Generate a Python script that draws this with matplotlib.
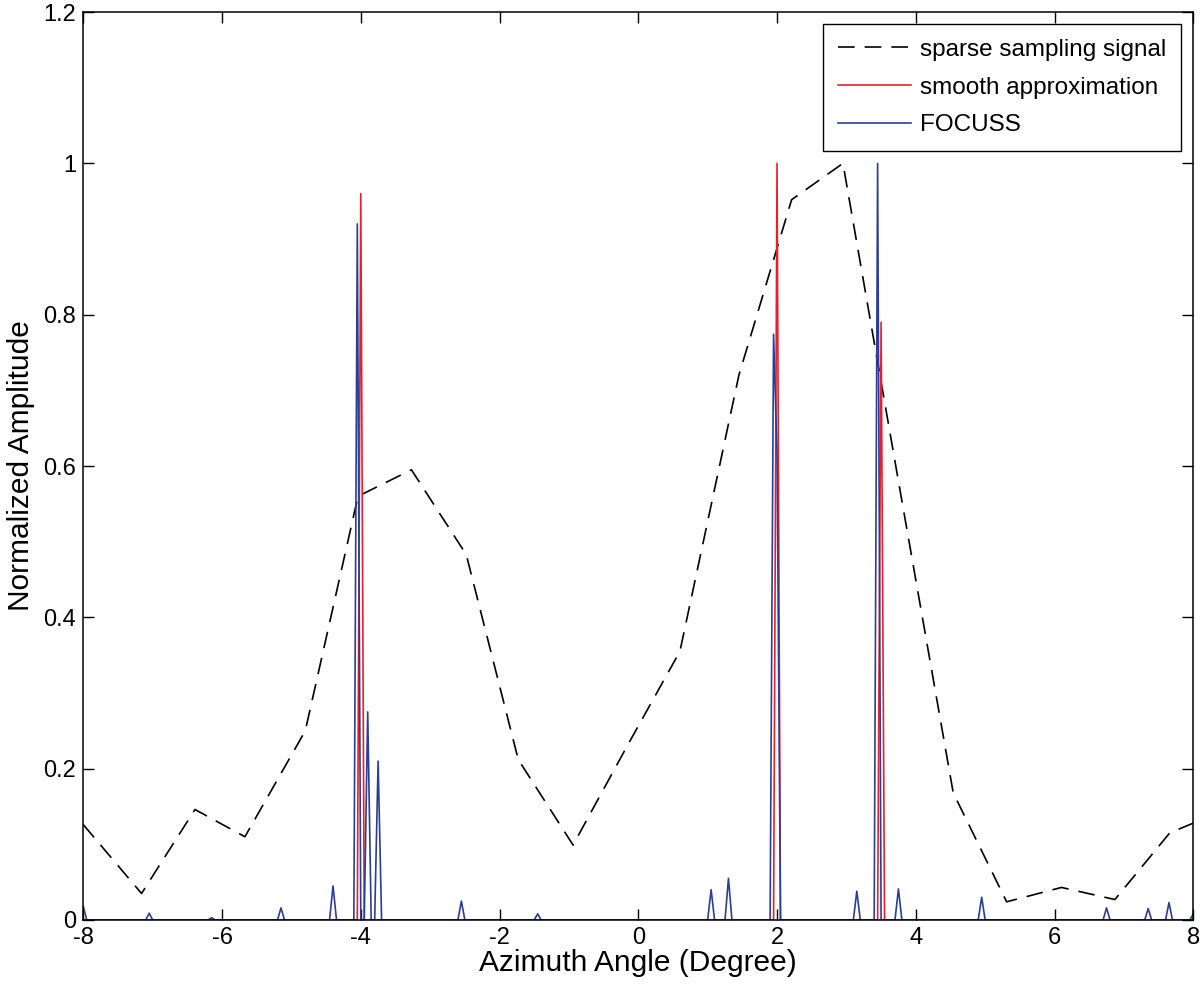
import numpy as np
import matplotlib
matplotlib.use("Agg")
import matplotlib.pyplot as plt

plt.rcParams["font.family"] = ["Liberation Sans", "DejaVu Sans"]
plt.rcParams["axes.unicode_minus"] = False

# sparse sampling signal (dashed), vertices
sparse_x = [-8.0, -7.16, -6.39, -5.67, -4.8, -4.04, -3.27, -2.48, -1.73, -0.94,
            -0.16, 0.6, 1.45, 2.21, 2.95, 3.75, 4.54, 5.31, 6.10, 6.87, 7.66, 8.0]
sparse_y = [0.126, 0.035, 0.146, 0.110, 0.25, 0.56, 0.595, 0.483, 0.212, 0.099,
            0.23, 0.355, 0.72, 0.952, 1.0, 0.58, 0.168, 0.024, 0.043, 0.027, 0.115, 0.128]

# smooth approximation: nonzero samples on the angle grid
smooth_peak_x = [-4.0, 2.0, 3.5]
smooth_peak_y = [0.96, 1.0, 0.79]

# FOCUSS: nonzero samples on the angle grid
focuss_peak_x = [-8.0, -7.05, -6.15, -5.15, -4.4, -4.05, -3.9, -3.75, -2.55, -1.45,
                 1.05, 1.3, 1.95, 2.0, 3.15, 3.45, 3.75, 4.95, 6.75, 7.35, 7.65, 8.0]
focuss_peak_y = [0.018, 0.009, 0.003, 0.016, 0.045, 0.92, 0.275, 0.21, 0.025, 0.008,
                 0.04, 0.055, 0.774, 0.615, 0.038, 1.0, 0.041, 0.03, 0.016, 0.015, 0.023, 0.008]

grid_step = 0.05
grid = np.round(np.arange(-8.0, 8.0 + grid_step / 2, grid_step), 4)


def on_grid(px, py):
    y = np.zeros_like(grid)
    for xv, yv in zip(px, py):
        y[np.argmin(np.abs(grid - xv))] = yv
    return y


smooth_y = on_grid(smooth_peak_x, smooth_peak_y)
focuss_y = on_grid(focuss_peak_x, focuss_peak_y)

fig = plt.figure(figsize=(12, 9.89), dpi=100)
ax = fig.add_axes([0.0694, 0.0698, 0.925, 0.918])

ax.plot(sparse_x, sparse_y, color="black", lw=1.2, dashes=(10, 6),
        label="sparse sampling signal")
ax.plot(grid, smooth_y, color="#e8202e", lw=1.2, label="smooth approximation")
ax.plot(grid, focuss_y, color="#2a3f94", lw=1.2, label="FOCUSS")

ax.set_xlim(-8, 8)
ax.set_ylim(0, 1.2)
ax.set_xticks(np.arange(-8, 9, 2))
ax.set_yticks([0, 0.2, 0.4, 0.6, 0.8, 1, 1.2])
ax.set_yticklabels(["0", "0.2", "0.4", "0.6", "0.8", "1", "1.2"])
ax.tick_params(direction="in", length=8, width=1, top=True, right=True,
               labelsize=17, pad=5)
for s in ax.spines.values():
    s.set_linewidth(1.1)

ax.set_xlabel("Azimuth Angle (Degree)", fontsize=21.5, labelpad=0)
ax.set_ylabel("Normalized Amplitude", fontsize=21.5, labelpad=6)

leg = ax.legend(loc="upper right", fontsize=17.5, handlelength=3.0,
                fancybox=False, framealpha=1, edgecolor="black",
                borderpad=0.6, labelspacing=0.65, handletextpad=0.4,
                borderaxespad=0.5)
leg.get_frame().set_linewidth(1.0)

fig.savefig("out.png", dpi=100)
